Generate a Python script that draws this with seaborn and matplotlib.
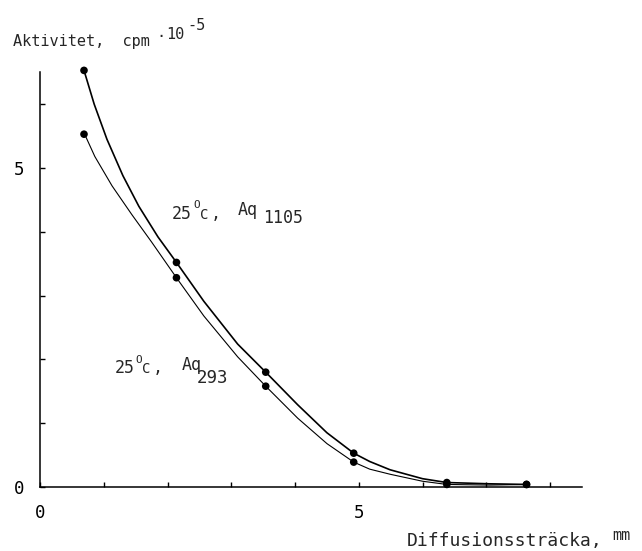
import numpy as np
import pandas as pd
import matplotlib
matplotlib.use("Agg")
import matplotlib.pyplot as plt
import seaborn as sns

# =====================================
# data

# measured points (dots)
dist_mm = [0.69, 2.14, 3.54, 4.92, 6.38, 7.63]
aq1105_act = [6.53, 3.52, 1.80, 0.53, 0.07, 0.04]
aq293_act = [5.53, 3.28, 1.58, 0.39, 0.04, 0.04]

# hand drawn curves
curve1105_x = [0.69, 0.85, 1.05, 1.30, 1.55, 1.85, 2.14, 2.57, 3.10, 3.54,
               4.04, 4.50, 4.92, 5.17, 5.49, 6.00, 6.38, 7.05, 7.63]
curve1105_y = [6.53, 6.00, 5.45, 4.88, 4.40, 3.92, 3.52, 2.91, 2.24, 1.80,
               1.29, 0.85, 0.53, 0.40, 0.27, 0.13, 0.07, 0.05, 0.04]
curve293_x = [0.70, 0.86, 1.13, 1.44, 1.75, 2.14, 2.57, 3.10, 3.54, 4.04,
              4.50, 4.92, 5.17, 5.49, 6.00, 6.38, 7.05, 7.63]
curve293_y = [5.53, 5.18, 4.72, 4.27, 3.84, 3.28, 2.68, 2.04, 1.58, 1.08,
              0.68, 0.39, 0.28, 0.20, 0.09, 0.04, 0.03, 0.04]

x_ticks = list(range(0, 9))
x_ticklabels = ["0", "", "", "", "", "5", "", "", ""]
y_ticks = list(range(0, 7))
y_ticklabels = ["0", "", "", "", "", "5", ""]

df_pts = pd.DataFrame({
    "dist": dist_mm * 2,
    "act": aq1105_act + aq293_act,
})

# =====================================
# plot setup
sns.set_style("white")
plt.rcParams["font.family"] = ["DejaVu Sans Mono", "DejaVu Sans"]

W, H = 642, 551
fig = plt.figure(figsize=(W / 100, H / 100), dpi=100)
ax = fig.add_axes([40 / W, 64 / H, 542 / W, 414.7 / H])

sns.lineplot(x=curve1105_x, y=curve1105_y, sort=False, estimator=None,
             color="black", lw=1.2, ax=ax, clip_on=False)
sns.lineplot(x=curve293_x, y=curve293_y, sort=False, estimator=None,
             color="black", lw=0.8, ax=ax, clip_on=False)
sns.scatterplot(data=df_pts, x="dist", y="act", color="black", s=30,
                edgecolor="none", ax=ax, clip_on=False, zorder=5)

ax.set_xlim(0, 8.5)
ax.set_ylim(0, 6.5)
ax.set_xticks(x_ticks)
ax.set_xticklabels(x_ticklabels)
ax.set_yticks(y_ticks)
ax.set_yticklabels(y_ticklabels)
ax.tick_params(axis="both", direction="in", length=3.5, width=1,
               labelsize=12.5, bottom=True, left=True, colors="black")
ax.tick_params(axis="x", pad=12)
ax.tick_params(axis="y", pad=11)
ax.set_xlabel("")
ax.set_ylabel("")
for s in ["top", "right"]:
    ax.spines[s].set_visible(False)
for s in ["left", "bottom"]:
    ax.spines[s].set_linewidth(1.1)
    ax.spines[s].set_color("black")


def put(text, x_px, y_px, size):
    # typewriter style text placed in pixel coords of the page
    fig.text(x_px / W, 1 - y_px / H, text, fontsize=size,
             ha="left", va="baseline", family="DejaVu Sans Mono")


# y axis label
put("Aktivitet,  cpm", 13, 46, 11)
put("\u00b7", 156, 41, 11)
put("10", 166, 39, 11)
put("-5", 187, 30, 11)

# x axis label
put("Diffusionssträcka,", 407, 546, 13)
put("mm", 612, 540, 11)

# curve labels
put("25", 172, 219, 12)
put("O", 193, 208, 8)
put("C", 200, 219, 10)
put(",", 211, 219, 12)
put("Aq", 238, 215, 12)
put("1105", 263, 223, 12)

put("25", 115, 373, 12)
put("O", 135, 363, 8)
put("C", 142, 373, 10)
put(",", 153, 373, 12)
put("Aq", 182, 370, 12)
put("293", 197, 383, 12.5)

plt.savefig("out.png", dpi=100)
